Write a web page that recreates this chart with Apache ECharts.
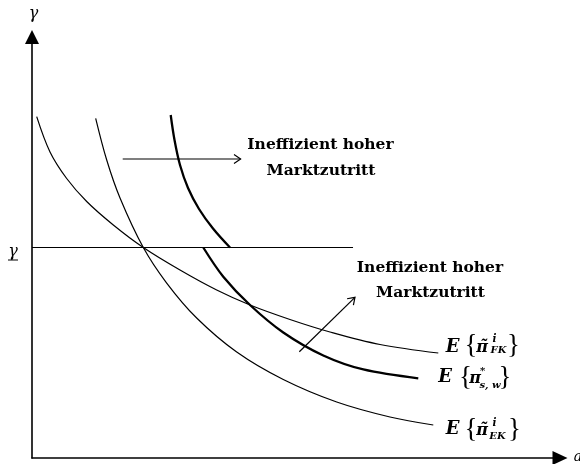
<!DOCTYPE html>
<html>
<head>
<meta charset="utf-8">
<script src="https://cdn.jsdelivr.net/npm/echarts@6/dist/echarts.min.js"></script>
<style>
  html, body { margin: 0; padding: 0; background: #fff; }
  #chart { width: 580px; height: 464px; }
</style>
</head>
<body>
<div id="chart"></div>
<script>
// curves (x: 0..10, y: 0..8)
const curveFK = [[0.089, 6.486], [0.341, 5.815], [0.657, 5.311], [1.036, 4.874], [1.540, 4.428], [2.108, 4.0], [2.803, 3.572], [3.498, 3.192], [4.129, 2.907], [4.886, 2.632], [5.644, 2.394], [6.591, 2.157], [7.695, 1.995]]
const curveEK = [[1.206, 6.455], [1.415, 5.663], [1.667, 4.941], [2.108, 4.0], [2.551, 3.325], [3.119, 2.660], [3.877, 2.014], [4.759, 1.492], [5.771, 1.064], [6.780, 0.779], [7.600, 0.627]]
const curveSWupper = [[2.627, 6.518], [2.699, 6.043], [2.803, 5.568], [2.955, 5.131], [3.163, 4.732], [3.428, 4.361], [3.750, 4.0]]
const curveSWlower = [[3.244, 4.0], [3.623, 3.445], [4.129, 2.907], [4.759, 2.385], [5.517, 1.948], [6.275, 1.682], [7.316, 1.515]]
const gammaLine = [[0, 4.0], [6.08, 4.0]]

// annotation arrows [from, to]
const arrowRight = [[1.718, 5.682], [3.951, 5.682]]
const arrowDiag = [[5.063, 2.020], [6.117, 3.053]]

const chart = echarts.init(document.getElementById('chart'))

const thin = { color: '#000', width: 1.2 }
const thick = { color: '#000', width: 2.3 }

const makeCurve = (data, lineStyle) => ({
  type: 'line',
  data: data,
  smooth: 0.35,
  symbol: 'none',
  lineStyle: lineStyle,
  silent: true,
  animation: false
})

const option = {
  animation: false,
  grid: { left: 32, right: 20, top: 37, bottom: 6 },
  xAxis: {
    type: 'value',
    min: 0,
    max: 10,
    axisLine: {
      show: true,
      onZero: false,
      symbol: ['none', 'triangle'],
      symbolSize: [14, 15],
      lineStyle: { color: '#000', width: 1.6 }
    },
    axisTick: { show: false },
    axisLabel: { show: false },
    splitLine: { show: false }
  },
  yAxis: {
    type: 'value',
    min: 0,
    max: 8,
    axisLine: {
      show: true,
      onZero: false,
      symbol: ['none', 'triangle'],
      symbolSize: [14, 14],
      lineStyle: { color: '#000', width: 1.6 }
    },
    axisTick: { show: false },
    axisLabel: { show: false },
    splitLine: { show: false }
  },
  series: [
    makeCurve(gammaLine, thin),
    makeCurve(curveFK, thin),
    makeCurve(curveEK, thin),
    makeCurve(curveSWupper, thick),
    makeCurve(curveSWlower, thick)
  ]
}

chart.setOption(option)

const serif = '"DejaVu Serif", "Liberation Serif", serif'
const txt = (x, y, text, font) => ({
  type: 'text',
  x: x,
  y: y,
  silent: true,
  style: { text: text, font: font, fill: '#000', align: 'center', verticalAlign: 'middle' }
})

const fE = 'italic bold 18px ' + serif
const fBrace = '27px "Liberation Serif", serif'
const fPi = 'italic bold 16px ' + serif
const fSup = 'italic bold 10.5px ' + serif
const fSub = 'italic bold 10px ' + serif
const fNote = 'bold 15.5px ' + serif

const arrowGraphic = (pts) => {
  const a = chart.convertToPixel({ gridIndex: 0 }, pts[0])
  const b = chart.convertToPixel({ gridIndex: 0 }, pts[1])
  const ang = Math.atan2(b[1] - a[1], b[0] - a[0])
  const len = 8, spread = 0.6
  const h1 = [b[0] - len * Math.cos(ang - spread), b[1] - len * Math.sin(ang - spread)]
  const h2 = [b[0] - len * Math.cos(ang + spread), b[1] - len * Math.sin(ang + spread)]
  return [
    { type: 'polyline', silent: true, shape: { points: [a, b] }, style: { stroke: '#000', lineWidth: 1.2, fill: null } },
    { type: 'polyline', silent: true, shape: { points: [h1, b, h2] }, style: { stroke: '#000', lineWidth: 1.2, fill: null } }
  ]
}

const graphics = [
  txt(33.5, 14, 'γ', 'italic 16px ' + serif),
  txt(13, 252, 'γ', 'italic 16px ' + serif),
  { type: 'line', silent: true, shape: { x1: 8, y1: 260, x2: 18, y2: 260 }, style: { stroke: '#000', lineWidth: 1 } },
  txt(578, 457, 'a', 'italic 14px ' + serif),

  txt(320.5, 145, 'Ineffizient hoher', fNote),
  txt(321, 171, 'Marktzutritt', fNote),
  txt(430, 268.3, 'Ineffizient hoher', fNote),
  txt(430.5, 293.3, 'Marktzutritt', fNote),

  txt(452.5, 347, 'E', fE),
  txt(471, 346, '{', fBrace),
  txt(482, 348, 'π̃', fPi),
  txt(494.5, 339, 'i', fSup),
  txt(498.5, 350.5, 'FK', fSub),
  txt(513.5, 346, '}', fBrace),

  txt(445, 377.5, 'E', fE),
  txt(465.5, 377.5, '{', fBrace),
  txt(475, 378.5, 'π', fPi),
  txt(482.5, 371, '*', fSub),
  txt(490, 385, 's, w', fSub),
  txt(505, 377.5, '}', fBrace),

  txt(452.5, 429, 'E', fE),
  txt(471, 429.5, '{', fBrace),
  txt(482, 431, 'π̃', fPi),
  txt(494.5, 423, 'i', fSup),
  txt(497.5, 436, 'EK', fSub),
  txt(514.5, 429.5, '}', fBrace)
].concat(arrowGraphic(arrowRight), arrowGraphic(arrowDiag))

chart.setOption({ graphic: graphics })
</script>
</body>
</html>
